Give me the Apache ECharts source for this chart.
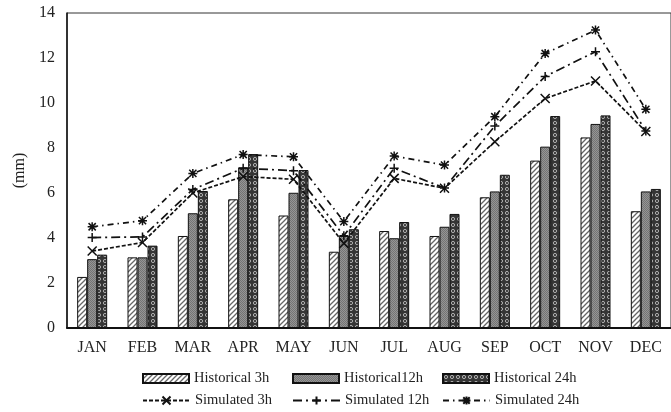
<!DOCTYPE html>
<html>
<head>
<meta charset="utf-8">
<script src="https://cdn.jsdelivr.net/npm/echarts@6/dist/echarts.min.js"></script>
<style>
  html, body { margin: 0; padding: 0; background: #fff; }
  #chart { width: 671px; height: 412px; }
</style>
</head>
<body>
<div id="chart"></div>
<script>
// Monthly values (mm)
var months = ['JAN', 'FEB', 'MAR', 'APR', 'MAY', 'JUN', 'JUL', 'AUG', 'SEP', 'OCT', 'NOV', 'DEC'];
var historical3h  = [2.27, 3.14, 4.09, 5.72, 5.00, 3.39, 4.31, 4.09, 5.81, 7.44, 8.47, 5.19];
var historical12h = [3.06, 3.14, 5.10, 7.14, 6.01, 4.09, 3.99, 4.50, 6.07, 8.06, 9.07, 6.07];
var historical24h = [3.26, 3.66, 6.09, 7.73, 7.02, 4.39, 4.71, 5.07, 6.81, 9.42, 9.45, 6.18];
var simulated3h   = [3.42, 3.80, 6.00, 6.73, 6.61, 3.76, 6.65, 6.21, 8.28, 10.20, 10.98, 8.73];
var simulated12h  = [4.02, 4.05, 6.16, 7.10, 6.99, 4.10, 7.10, 6.22, 8.98, 11.18, 12.28, 8.76];
var simulated24h  = [4.50, 4.77, 6.87, 7.71, 7.61, 4.73, 7.64, 7.24, 9.39, 12.20, 13.24, 9.72];
var yTicks = { min: 0, max: 14, step: 2 };

// Fill patterns for the bars
function hatchPattern() {
  var c = document.createElement('canvas');
  c.width = 5; c.height = 5;
  var g = c.getContext('2d');
  g.fillStyle = '#ffffff'; g.fillRect(0, 0, 5, 5);
  g.strokeStyle = '#666'; g.lineWidth = 1.3;
  g.beginPath();
  g.moveTo(-1, 6); g.lineTo(6, -1);
  g.moveTo(-1, 1); g.lineTo(1, -1);
  g.moveTo(4, 6); g.lineTo(6, 4);
  g.stroke();
  return c;
}
function dotPattern() {
  var c = document.createElement('canvas');
  c.width = 2; c.height = 2;
  var g = c.getContext('2d');
  g.fillStyle = '#959595'; g.fillRect(0, 0, 2, 2);
  g.fillStyle = '#747474'; g.fillRect(0, 0, 1, 1); g.fillRect(1, 1, 1, 1);
  return c;
}
function crossPattern() {
  var c = document.createElement('canvas');
  c.width = 6; c.height = 6;
  var g = c.getContext('2d');
  g.fillStyle = '#353535'; g.fillRect(0, 0, 6, 6);
  g.strokeStyle = '#b0b0b0'; g.lineWidth = 1;
  g.beginPath();
  g.arc(3, 3, 1.6, 0, Math.PI * 2);
  g.stroke();
  return c;
}

var serif = '"Liberation Serif", "Times New Roman", serif';
var symX = 'path://M0,0L10,10M10,0L0,10';
var symPlus = 'path://M5,0L5,10M0,5L10,5';
var symStar = 'path://M1,1L9,9M9,1L1,9M5,0L5,10M0,5L10,5';

function barSeries(name, data, pattern) {
  return {
    name: name, type: 'bar', data: data,
    barWidth: 10, barGap: '0%',
    itemStyle: {
      color: { image: pattern, repeat: 'repeat' },
      borderColor: '#111', borderWidth: 1
    },
    emphasis: { disabled: true }
  };
}
function lineSeries(name, data, symbol, dash) {
  return {
    name: name, type: 'line', data: data, z: 5,
    symbol: symbol, symbolSize: 9, showAllSymbol: true,
    lineStyle: { color: '#111', width: 1.7, type: dash },
    itemStyle: { color: 'transparent', borderColor: '#111', borderWidth: 1.5 },
    emphasis: { disabled: true }
  };
}

var legendText = { fontFamily: serif, fontSize: 14.5, color: '#222' };
function legendItem(name, left, top, w, h, icon) {
  var item = {
    data: [name], left: left, top: top,
    itemWidth: w, itemHeight: h, itemGap: 0, padding: 0,
    textStyle: legendText, selectedMode: false
  };
  if (icon) item.icon = icon;
  return item;
}

var chart = echarts.init(document.getElementById('chart'), null, { renderer: 'canvas' });
chart.setOption({
  animation: false,
  backgroundColor: '#fff',
  grid: {
    left: 67, top: 13, right: -8, bottom: 84,
    show: true, borderColor: '#333', borderWidth: 1, backgroundColor: 'transparent'
  },
  legend: [
    legendItem('Historical 3h', 142, 371, 46, 9, 'rect'),
    legendItem('Historical12h', 292, 371, 46, 9, 'rect'),
    legendItem('Historical 24h', 442, 371, 46, 9, 'rect'),
    legendItem('Simulated 3h', 142, 393, 47, 10),
    legendItem('Simulated 12h', 292, 393, 47, 10),
    legendItem('Simulated 24h', 442, 393, 47, 10)
  ],
  xAxis: {
    type: 'category', data: months,
    axisLine: { lineStyle: { color: '#111', width: 2 } },
    axisTick: { show: false },
    axisLabel: { fontFamily: serif, fontSize: 16, color: '#222', margin: 12 }
  },
  yAxis: {
    type: 'value', min: yTicks.min, max: yTicks.max, interval: yTicks.step,
    name: '(mm)', nameLocation: 'middle', nameGap: 35, nameRotate: 90,
    nameTextStyle: { fontFamily: serif, fontSize: 16, color: '#222' },
    axisLine: { show: true, lineStyle: { color: '#111', width: 1.5 } },
    axisTick: { show: false },
    splitLine: { show: false },
    axisLabel: { fontFamily: serif, fontSize: 16, color: '#222', margin: 12 }
  },
  series: [
    barSeries('Historical 3h', historical3h, hatchPattern()),
    barSeries('Historical12h', historical12h, dotPattern()),
    barSeries('Historical 24h', historical24h, crossPattern()),
    lineSeries('Simulated 3h', simulated3h, symX, [4, 2]),
    lineSeries('Simulated 12h', simulated12h, symPlus, [9, 4, 2, 4]),
    lineSeries('Simulated 24h', simulated24h, symStar, [6, 4, 1.5, 4])
  ]
});
</script>
</body>
</html>
